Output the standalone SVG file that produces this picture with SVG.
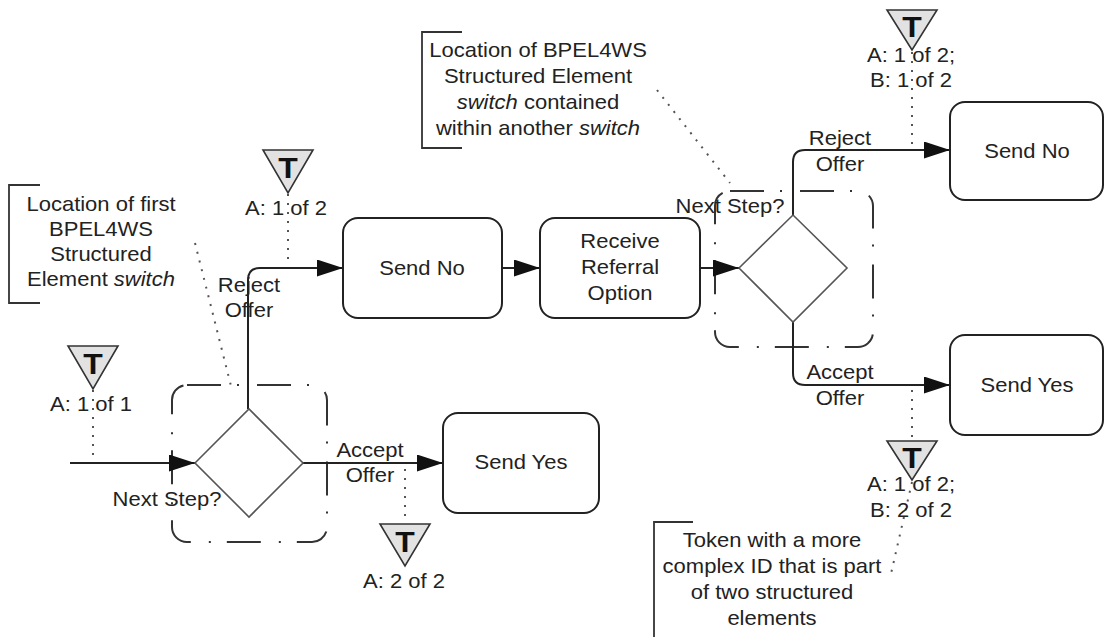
<svg xmlns="http://www.w3.org/2000/svg" width="1105" height="637" viewBox="0 0 1105 637">
<style>
.t{font-family:"Liberation Sans",Arial,sans-serif;font-size:20px;fill:#222;text-anchor:middle}
.tk{font-family:"Liberation Sans",Arial,sans-serif;font-size:29px;font-weight:bold;fill:#111;text-anchor:middle}
.box{fill:#fff;stroke:#222;stroke-width:2}
.dia{fill:#fff;stroke:#555;stroke-width:1.6}
.tri{fill:#e2e2e2;stroke:#333;stroke-width:1.6}
.grp{fill:none;stroke:#333;stroke-width:2;stroke-dasharray:34 16 2 18}
.con{fill:none;stroke:#222;stroke-width:2}
.dot{fill:none;stroke:#555;stroke-width:2;stroke-dasharray:2 7}
.brk{fill:none;stroke:#333;stroke-width:1.8}
</style>
<defs>
<marker id="ah" markerUnits="userSpaceOnUse" markerWidth="26" markerHeight="17" refX="26" refY="8.5" orient="auto">
<path d="M0,0 L26,8.5 L0,17 z" fill="#111"/>
</marker>
</defs>
<rect width="1105" height="637" fill="#fff"/>

<g id="groups">
<rect class="grp" x="172" y="385" width="155" height="157" rx="15"/>
<rect class="grp" x="715" y="191" width="158" height="156" rx="15"/>
</g>

<g id="connectors">
<path class="con" d="M70,463 L195,463" marker-end="url(#ah)"/>
<path class="con" d="M248,409 L248,280 Q248,268 260,268 L343,268" marker-end="url(#ah)"/>
<path class="con" d="M303,463 L443,463" marker-end="url(#ah)"/>
<path class="con" d="M502,268 L540,268" marker-end="url(#ah)"/>
<path class="con" d="M700,268 L739,268" marker-end="url(#ah)"/>
<path class="con" d="M793,216 L793,162 Q793,150 805,150 L950,150" marker-end="url(#ah)"/>
<path class="con" d="M793,322 L793,373 Q793,385 805,385 L950,385" marker-end="url(#ah)"/>
</g>

<g id="links">
<line class="dot" x1="288" y1="194" x2="288" y2="263"/>
<line class="dot" x1="93" y1="390" x2="93" y2="458"/>
<line class="dot" x1="405" y1="469" x2="405" y2="522"/>
<line class="dot" x1="912" y1="52" x2="912" y2="147"/>
<line class="dot" x1="912" y1="390" x2="912" y2="440"/>
<line class="dot" x1="912" y1="482" x2="890" y2="578"/>
<line class="dot" x1="195" y1="243" x2="231" y2="386"/>
<line class="dot" x1="657" y1="90" x2="730" y2="183"/>
</g>

<g id="decision1">
<polygon class="dia" points="195,463 249,409 303,463 249,517"/>
<text class="t" transform="translate(167,506) scale(1.1,1)">Next Step?</text>
</g>

<g id="decision2">
<polygon class="dia" points="739,268 793,215 847,268 793,322"/>
<text class="t" transform="translate(730,213) scale(1.1,1)">Next Step?</text>
</g>

<g id="sendNo1">
<rect class="box" x="343" y="218" width="159" height="100" rx="15"/>
<text class="t" transform="translate(422,275) scale(1.1,1)">Send No</text>
</g>

<g id="receive">
<rect class="box" x="540" y="218" width="160" height="100" rx="15"/>
<text class="t" transform="translate(620,248) scale(1.1,1)"><tspan x="0">Receive</tspan><tspan x="0" dy="26">Referral</tspan><tspan x="0" dy="26">Option</tspan></text>
</g>

<g id="sendYes1">
<rect class="box" x="443" y="413" width="156" height="100" rx="15"/>
<text class="t" transform="translate(521,469) scale(1.1,1)">Send Yes</text>
</g>

<g id="sendNo2">
<rect class="box" x="950" y="102" width="153" height="98" rx="15"/>
<text class="t" transform="translate(1027,158) scale(1.1,1)">Send No</text>
</g>

<g id="sendYes2">
<rect class="box" x="950" y="335" width="153" height="100" rx="15"/>
<text class="t" transform="translate(1027,392) scale(1.1,1)">Send Yes</text>
</g>

<g id="labels">
<text class="t" transform="translate(249,292) scale(1.1,1)"><tspan x="0">Reject</tspan><tspan x="0" dy="25">Offer</tspan></text>
<text class="t" transform="translate(370,457) scale(1.1,1)"><tspan x="0">Accept</tspan><tspan x="0" dy="25">Offer</tspan></text>
<text class="t" transform="translate(840,145) scale(1.1,1)"><tspan x="0">Reject</tspan><tspan x="0" dy="26">Offer</tspan></text>
<text class="t" transform="translate(840,379) scale(1.1,1)"><tspan x="0">Accept</tspan><tspan x="0" dy="26">Offer</tspan></text>
</g>

<g id="token1">
<polygon class="tri" points="263,150 313,150 288,193"/>
<text class="tk" transform="translate(288,178) scale(1.1,1)">T</text>
<text class="t" transform="translate(286,215) scale(1.1,1)">A: 1 of 2</text>
</g>

<g id="token2">
<polygon class="tri" points="68,346 118,346 93,389"/>
<text class="tk" transform="translate(93,374) scale(1.1,1)">T</text>
<text class="t" transform="translate(91,411) scale(1.1,1)">A: 1 of 1</text>
</g>

<g id="token3">
<polygon class="tri" points="380,524 430,524 405,566"/>
<text class="tk" transform="translate(405,552) scale(1.1,1)">T</text>
<text class="t" transform="translate(404,588) scale(1.1,1)">A: 2 of 2</text>
</g>

<g id="token4">
<polygon class="tri" points="887,10 937,10 912,50"/>
<text class="tk" transform="translate(912,37) scale(1.1,1)">T</text>
<text class="t" transform="translate(911,62) scale(1.1,1)"><tspan x="0">A: 1 of 2;</tspan><tspan x="0" dy="25">B: 1 of 2</tspan></text>
</g>

<g id="token5">
<polygon class="tri" points="887,441 937,441 912,480"/>
<text class="tk" transform="translate(912,468) scale(1.1,1)">T</text>
<text class="t" transform="translate(911,491) scale(1.1,1)"><tspan x="0">A: 1 of 2;</tspan><tspan x="0" dy="26">B: 2 of 2</tspan></text>
</g>

<g id="annotation1">
<path class="brk" d="M40,185 L9,185 L9,303 L40,303"/>
<text class="t" transform="translate(101,211) scale(1.1,1)"><tspan x="0">Location of first</tspan><tspan x="0" dy="25">BPEL4WS</tspan><tspan x="0" dy="25">Structured</tspan><tspan x="0" dy="25">Element <tspan font-style="italic">switch</tspan></tspan></text>
</g>

<g id="annotation2">
<path class="brk" d="M462,32 L422,32 L422,148 L462,148"/>
<text class="t" transform="translate(538,57) scale(1.1,1)"><tspan x="0">Location of BPEL4WS</tspan><tspan x="0" dy="26">Structured Element</tspan><tspan x="0" dy="26"><tspan font-style="italic">switch</tspan> contained</tspan><tspan x="0" dy="26">within another <tspan font-style="italic">switch</tspan></tspan></text>
</g>

<g id="annotation3">
<path class="brk" d="M693,522 L654,522 L654,637"/>
<text class="t" transform="translate(772,547) scale(1.1,1)"><tspan x="0">Token with a more</tspan><tspan x="0" dy="26">complex ID that is part</tspan><tspan x="0" dy="26">of two structured</tspan><tspan x="0" dy="26">elements</tspan></text>
</g>
</svg>
